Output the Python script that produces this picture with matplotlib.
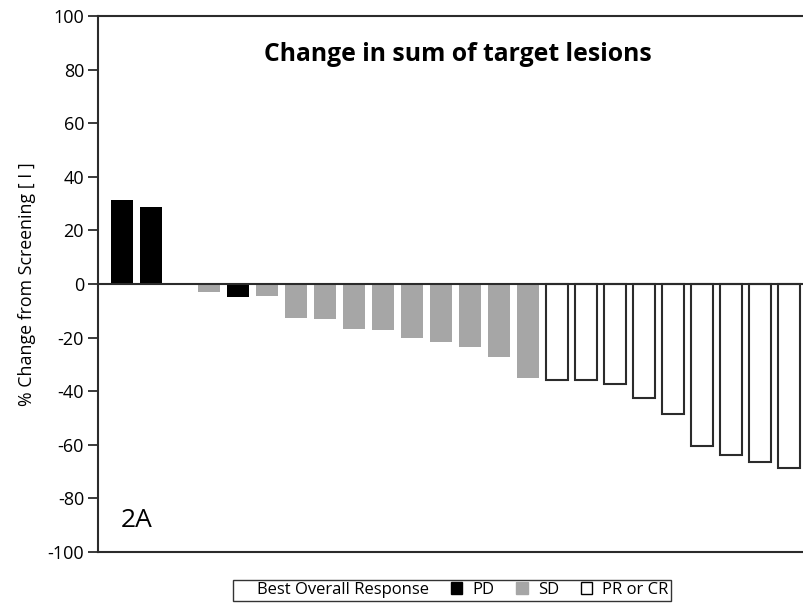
import matplotlib.pyplot as plt
from matplotlib.patches import Patch

plt.rcParams['font.family'] = ['Open Sans', 'DejaVu Sans']
plt.rcParams['axes.unicode_minus'] = False

# % change from screening per patient, sorted as in the waterfall
change = [31.3, 28.9, 0, -3.1, -4.7, -4.6, -12.6, -13.2, -16.7, -17.0, -20.3, -21.5,
          -23.4, -27.4, -35.2, -35.8, -35.8, -37.2, -42.4, -48.5, -60.4, -63.8, -66.4, -68.5]
response = ['PD', 'PD', 'SD', 'SD', 'PD', 'SD', 'SD', 'SD', 'SD', 'SD', 'SD', 'SD',
            'SD', 'SD', 'SD', 'PR', 'PR', 'PR', 'PR', 'PR', 'PR', 'PR', 'PR', 'PR']
fill = {'PD': 'black', 'SD': '#a6a6a6', 'PR': 'white'}
edge = {'PD': 'none', 'SD': 'none', 'PR': '#2b2b2b'}

fig = plt.figure(figsize=(8.04, 6.05), dpi=100)
ax = fig.add_axes([0.1219, 0.0876, 0.8955, 0.886])

x = range(len(change))
ax.bar(x, change, width=0.75,
       color=[fill[r] for r in response],
       edgecolor=[edge[r] for r in response], linewidth=1.5)
ax.axhline(0, color='#2b2b2b', linewidth=1.5)

ax.set_xlim(-0.83, 24)
ax.set_ylim(-100, 100)
ax.set_yticks(range(-100, 101, 20))
ax.set_xticks([])
ax.tick_params(axis='y', direction='out', length=7, width=1.3, labelsize=13,
               color='#2b2b2b', pad=3)
for s in ax.spines.values():
    s.set_linewidth(1.5)
    s.set_color('#2b2b2b')
ax.spines['right'].set_visible(False)
ax.set_ylabel('% Change from Screening [ I ]', fontsize=12.8, labelpad=8)

ax.text(0.5, 0.929, 'Change in sum of target lesions', transform=ax.transAxes,
        ha='center', va='center', fontsize=17.8, fontweight='bold')
ax.text(0.032, 0.058, '2A', transform=ax.transAxes, ha='left', va='center', fontsize=19)

handles = [Patch(visible=False),
           Patch(facecolor='black', edgecolor='black'),
           Patch(facecolor='#a6a6a6', edgecolor='#a6a6a6'),
           Patch(facecolor='white', edgecolor='black', linewidth=1)]
labels = ['Best Overall Response', 'PD', 'SD', 'PR or CR']
leg = fig.legend(handles, labels, loc='center', bbox_to_anchor=(452 / 804, 1 - 590 / 605),
                 ncol=4, fontsize=12, frameon=True, fancybox=False, handlelength=0.7,
                 handleheight=0.7, handletextpad=0.6, columnspacing=1.3,
                 borderpad=0.15, borderaxespad=0)
leg.get_frame().set_edgecolor('black')
leg.get_frame().set_linewidth(1.0)

fig.savefig('out.png', dpi=100)
